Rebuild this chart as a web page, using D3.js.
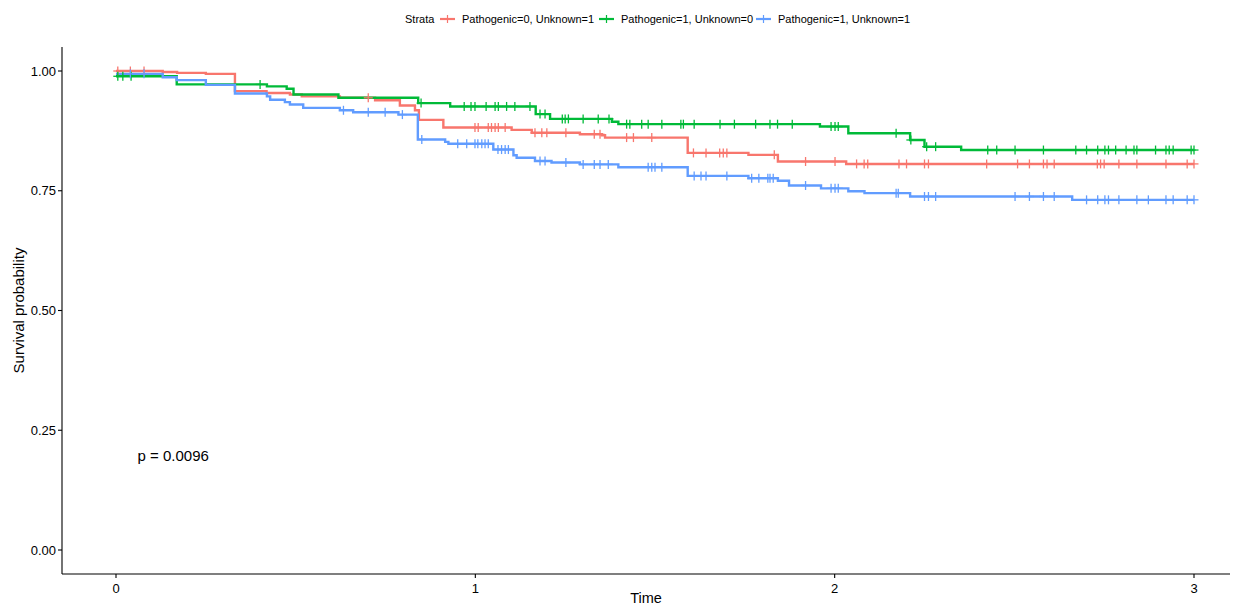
<!DOCTYPE html>
<html>
<head>
<meta charset="utf-8">
<script src="https://cdn.jsdelivr.net/npm/d3@7/dist/d3.min.js"></script>
<style>
  body { margin: 0; background: #fff; }
  svg { display: block; font-family: "Liberation Sans", Arial, sans-serif; }
</style>
</head>
<body>
<svg id="chart" width="1237" height="607"></svg>
<script>
// ---- data ----
const strataNames = ["Pathogenic=0, Unknown=1", "Pathogenic=1, Unknown=0", "Pathogenic=1, Unknown=1"];
const strataColors = ["#F8766D", "#00BA38", "#619CFF"];

// step changes: times and survival values after each step (first entry = start)
const redTimes = [0, 0.13, 0.17, 0.25, 0.331, 0.419, 0.484, 0.517, 0.623, 0.721, 0.790, 0.832, 0.843, 0.911, 1.101, 1.157, 1.291, 1.352, 1.361, 1.591, 1.760, 1.842, 2.032];
const redSurv  = [1.0, 0.998, 0.996, 0.994, 0.958, 0.954, 0.951, 0.947, 0.944, 0.939, 0.928, 0.918, 0.898, 0.882, 0.877, 0.871, 0.868, 0.866, 0.861, 0.829, 0.825, 0.811, 0.806];
const redCensor = [0.005, 0.04, 0.078, 0.702, 0.999, 1.008, 1.036, 1.045, 1.055, 1.064, 1.083, 1.166, 1.185, 1.199, 1.252, 1.331, 1.347, 1.421, 1.440, 1.491, 1.607, 1.642, 1.680, 1.690, 1.700, 1.832, 1.919, 2.001, 2.061, 2.082, 2.092, 2.179, 2.200, 2.250, 2.261, 2.423, 2.509, 2.542, 2.581, 2.591, 2.611, 2.731, 2.740, 2.750, 2.791, 2.841, 2.922, 2.981, 3.0];

const greenTimes = [0, 0.169, 0.420, 0.475, 0.494, 0.619, 0.841, 0.930, 1.168, 1.208, 1.380, 1.398, 1.959, 2.038, 2.210, 2.250, 2.352];
const greenSurv  = [0.989, 0.972, 0.968, 0.963, 0.951, 0.944, 0.933, 0.926, 0.910, 0.900, 0.894, 0.889, 0.884, 0.870, 0.856, 0.842, 0.835];
const greenCensor = [0.005, 0.019, 0.042, 0.401, 0.849, 0.969, 0.988, 0.999, 1.030, 1.055, 1.064, 1.087, 1.110, 1.152, 1.180, 1.194, 1.242, 1.250, 1.259, 1.300, 1.342, 1.372, 1.421, 1.430, 1.463, 1.481, 1.519, 1.572, 1.579, 1.609, 1.681, 1.721, 1.780, 1.820, 1.841, 1.882, 1.990, 2.001, 2.010, 2.171, 2.212, 2.256, 2.281, 2.426, 2.451, 2.502, 2.581, 2.671, 2.701, 2.732, 2.752, 2.762, 2.782, 2.811, 2.833, 2.841, 2.893, 2.922, 2.931, 2.942, 2.992, 3.0];

const blueTimes = [0, 0.130, 0.169, 0.250, 0.331, 0.420, 0.429, 0.470, 0.484, 0.521, 0.623, 0.660, 0.786, 0.840, 0.916, 0.925, 1.050, 1.106, 1.115, 1.166, 1.212, 1.291, 1.398, 1.591, 1.760, 1.842, 1.873, 1.962, 2.038, 2.083, 2.210, 2.661];
const blueSurv  = [0.994, 0.987, 0.981, 0.971, 0.953, 0.947, 0.940, 0.935, 0.930, 0.923, 0.918, 0.914, 0.909, 0.857, 0.852, 0.848, 0.836, 0.824, 0.819, 0.812, 0.809, 0.805, 0.799, 0.781, 0.776, 0.771, 0.761, 0.755, 0.749, 0.745, 0.738, 0.731];
const blueCensor = [0.04, 0.078, 0.633, 0.702, 0.749, 0.797, 0.851, 0.951, 0.976, 0.999, 1.007, 1.018, 1.027, 1.036, 1.063, 1.073, 1.083, 1.092, 1.180, 1.194, 1.252, 1.300, 1.331, 1.347, 1.370, 1.481, 1.491, 1.500, 1.519, 1.609, 1.628, 1.642, 1.700, 1.769, 1.789, 1.814, 1.820, 1.829, 1.919, 1.990, 2.001, 2.010, 2.171, 2.177, 2.250, 2.261, 2.281, 2.502, 2.542, 2.581, 2.611, 2.701, 2.732, 2.752, 2.762, 2.791, 2.841, 2.873, 2.922, 2.942, 2.981, 3.0];

const maxTime = 3.0;
const xTicks = [0, 1, 2, 3];
const yTicks = [0, 0.25, 0.5, 0.75, 1.0];
const yTickLabels = ["0.00", "0.25", "0.50", "0.75", "1.00"];
const pValueText = "p = 0.0096";
const pValuePos = [0.06, 0.196];

const series = [
  { name: strataNames[0], color: strataColors[0], times: redTimes, surv: redSurv, censor: redCensor },
  { name: strataNames[1], color: strataColors[1], times: greenTimes, surv: greenSurv, censor: greenCensor },
  { name: strataNames[2], color: strataColors[2], times: blueTimes, surv: blueSurv, censor: blueCensor }
];

// ---- layout ----
const svg = d3.select("#chart");
const panel = { left: 62, right: 1230, top: 47, bottom: 574 };
const x = d3.scaleLinear().domain([0, 3]).range([116, 1194]);
const y = d3.scaleLinear().domain([0, 1]).range([550, 71]);

// axes lines
svg.append("line").attr("x1", panel.left).attr("x2", panel.left).attr("y1", panel.top).attr("y2", panel.bottom)
  .attr("stroke", "#000").attr("stroke-width", 1.1);
svg.append("line").attr("x1", panel.left).attr("x2", panel.right).attr("y1", panel.bottom).attr("y2", panel.bottom)
  .attr("stroke", "#000").attr("stroke-width", 1.1);

// y axis ticks
const yAx = svg.append("g");
yTicks.forEach((v, i) => {
  yAx.append("line").attr("x1", panel.left - 4).attr("x2", panel.left).attr("y1", y(v)).attr("y2", y(v))
    .attr("stroke", "#000").attr("stroke-width", 1.1);
  yAx.append("text").attr("x", panel.left - 6).attr("y", y(v)).attr("dy", "0.35em")
    .attr("text-anchor", "end").attr("font-size", 13).attr("fill", "#000").text(yTickLabels[i]);
});
// x axis ticks
const xAx = svg.append("g");
xTicks.forEach(v => {
  xAx.append("line").attr("x1", x(v)).attr("x2", x(v)).attr("y1", panel.bottom).attr("y2", panel.bottom + 4)
    .attr("stroke", "#000").attr("stroke-width", 1.1);
  xAx.append("text").attr("x", x(v)).attr("y", panel.bottom + 14).attr("dy", "0.35em")
    .attr("text-anchor", "middle").attr("font-size", 13).attr("fill", "#000").text(v);
});

// axis titles
svg.append("text").attr("x", (panel.left + panel.right) / 2).attr("y", 603)
  .attr("text-anchor", "middle").attr("font-size", 14.5).attr("fill", "#000").text("Time");
svg.append("text").attr("transform", `translate(24,${(panel.top + panel.bottom) / 2}) rotate(-90)`)
  .attr("text-anchor", "middle").attr("font-size", 15).attr("fill", "#000").text("Survival probability");

// curves
function survAt(s, t) {
  let v = s.surv[0];
  for (let i = 0; i < s.times.length; i++) { if (s.times[i] <= t) v = s.surv[i]; }
  return v;
}
const line = d3.line().x(d => x(d[0])).y(d => y(d[1])).curve(d3.curveStepAfter);
series.forEach(s => {
  const pts = s.times.map((t, i) => [t, s.surv[i]]);
  pts.push([maxTime, s.surv[s.surv.length - 1]]);
  svg.append("path").attr("d", line(pts)).attr("fill", "none")
    .attr("stroke", s.color).attr("stroke-width", 2.4);
});
series.forEach(s => {
  const g = svg.append("g");
  s.censor.forEach(t => {
    const cx = x(t), cy = y(survAt(s, t));
    g.append("line").attr("x1", cx).attr("x2", cx).attr("y1", cy - 4.5).attr("y2", cy + 4.5)
      .attr("stroke", s.color).attr("stroke-width", 1.3);
    g.append("line").attr("x1", cx - 4.5).attr("x2", cx + 4.5).attr("y1", cy).attr("y2", cy)
      .attr("stroke", s.color).attr("stroke-width", 1.3);
  });
});

// p-value
svg.append("text").attr("x", x(pValuePos[0])).attr("y", y(pValuePos[1])).attr("dy", "0.35em")
  .attr("font-size", 15).attr("fill", "#000").text(pValueText);

// legend
const leg = svg.append("g").attr("font-size", 11).attr("fill", "#000");
leg.append("text").attr("x", 405).attr("y", 19).attr("dy", "0.35em").text("Strata");
const keyX = [440, 599, 756];
series.forEach((s, i) => {
  const kx = keyX[i];
  leg.append("line").attr("x1", kx).attr("x2", kx + 15).attr("y1", 19).attr("y2", 19)
    .attr("stroke", s.color).attr("stroke-width", 2.2);
  leg.append("line").attr("x1", kx + 7.5).attr("x2", kx + 7.5).attr("y1", 15).attr("y2", 23)
    .attr("stroke", s.color).attr("stroke-width", 1.2);
  leg.append("text").attr("x", kx + 22).attr("y", 19).attr("dy", "0.35em").text(s.name);
});
</script>
</body>
</html>
